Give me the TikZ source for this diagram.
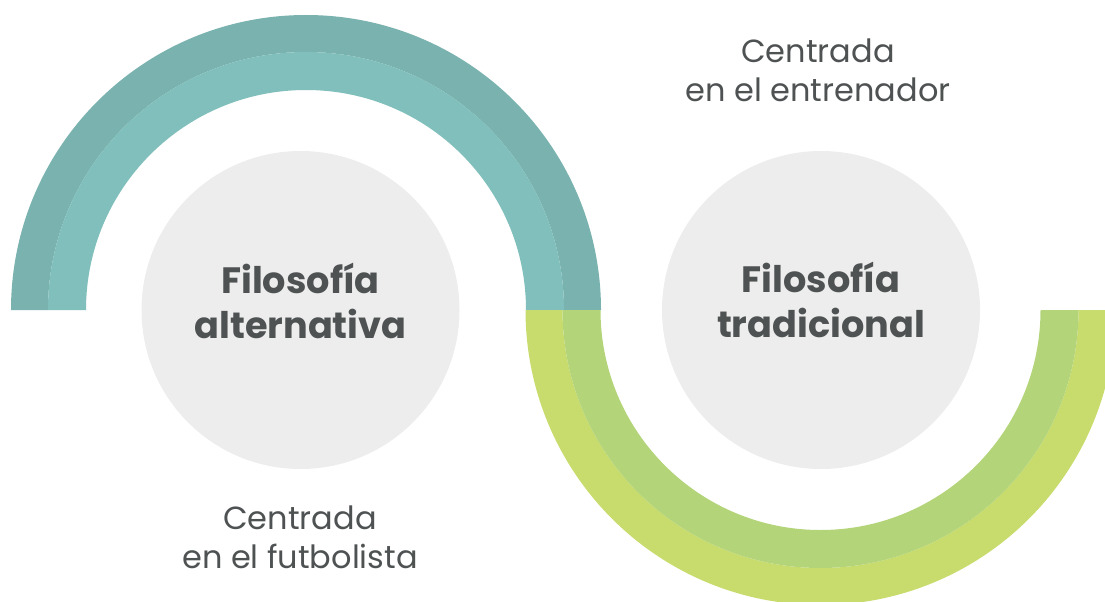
\documentclass[tikz,border=0pt]{standalone}
\usepackage{fontspec}
\setmainfont{Poppins}
\usetikzlibrary{calc}
\usepackage{xcolor}
\definecolor{tealdark}{HTML}{79B2AE}
\definecolor{teallight}{HTML}{80BFBB}
\definecolor{greenin}{HTML}{B3D478}
\definecolor{greenout}{HTML}{C8DC6E}
\definecolor{discgray}{HTML}{EDEDED}
\definecolor{txtgray}{HTML}{4F5253}

\begin{document}
\begin{tikzpicture}[x=0.75pt, y=0.75pt,
	disc/.style={circle, fill=discgray, minimum size=238.5pt, inner sep=0pt},
	title/.style={font=\bfseries\fontsize{27.5}{33.5}\selectfont, text=txtgray, align=center},
	caption/.style={font=\fontsize{24}{29.5}\selectfont, text=txtgray, align=center}]
	\useasboundingbox (0,0) rectangle (1105,601);
	\clip (0,0) rectangle (1105,601);
	\coordinate (U) at (306,291);
	\coordinate (D) at (820.5,291);
	% upper half ring
	\fill[tealdark] ($(U)+(-295,0)$) arc (180:0:295) -- ($(U)+(258,0)$) arc (0:180:258) -- cycle;
	\fill[teallight] ($(U)+(-258,0)$) arc (180:0:258) -- ($(U)+(220,0)$) arc (0:180:220) -- cycle;
	% lower half ring
	\fill[greenout] ($(D)+(-295,0)$) arc (180:360:295) -- ($(D)+(258,0)$) arc (360:180:258) -- cycle;
	\fill[greenin] ($(D)+(-258,0)$) arc (180:360:258) -- ($(D)+(220,0)$) arc (360:180:220) -- cycle;
	% discs
	\node[disc] (alt) at (300.5,291) {};
	\node[disc] (trad) at (821,291) {};
	\node[title] (altname) at ($(alt)+(0,9)$) {Filosofía\\alternativa};
	\node[title] (tradname) at ($(trad)+(0,10)$) {Filosofía\\tradicional};
	% captions
	\node[caption] (coach) at (818,531) {Centrada\\en el entrenador};
	\node[caption] (player) at (300,64) {Centrada\\en el futbolista};
\end{tikzpicture}
\end{document}
